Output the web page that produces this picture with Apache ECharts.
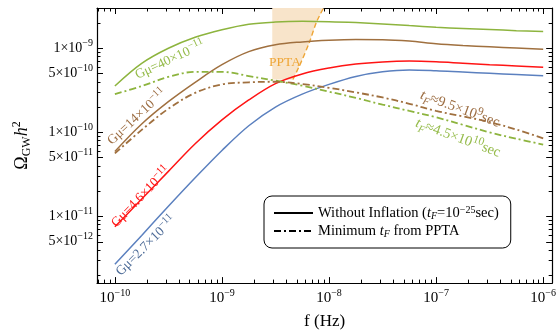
<!DOCTYPE html>
<html>
<head>
<meta charset="utf-8">
<script src="https://cdn.jsdelivr.net/npm/echarts@6/dist/echarts.min.js"></script>
<style>
  html, body { margin: 0; padding: 0; background: #fff; }
  #chart { width: 559px; height: 335px; }
</style>
</head>
<body>
<div id="chart"></div>
<script>
// frequencies (Hz) shared by all curves, quarter-decade steps
const freq = [1e-10, 1.78e-10, 3.16e-10, 5.62e-10, 1e-9, 1.78e-9, 3.16e-9, 5.62e-9, 1e-8,
              1.78e-8, 3.16e-8, 5.62e-8, 1e-7, 1.78e-7, 3.16e-7, 5.62e-7, 1e-6];

// Omega_GW h^2, without inflation
const omegaG40 = [3.56e-10, 6.61e-10, 1.0e-9, 1.35e-9, 1.66e-9, 1.93e-9, 2.05e-9, 2.09e-9, 2.07e-9,
                  2.02e-9, 1.95e-9, 1.86e-9, 1.78e-9, 1.72e-9, 1.67e-9, 1.62e-9, 1.58e-9];
const omegaG14 = [5.94e-11, 1.26e-10, 2.32e-10, 3.94e-10, 6.38e-10, 9.12e-10, 1.10e-9, 1.19e-9, 1.245e-9,
                  1.27e-9, 1.265e-9, 1.22e-9, 1.135e-9, 1.08e-9, 1.04e-9, 1.005e-9, 9.72e-10];
const omegaG46 = [7.53e-12, 1.61e-11, 3.44e-11, 7.33e-11, 1.41e-10, 2.43e-10, 3.80e-10, 4.95e-10, 5.82e-10,
                  6.49e-10, 6.89e-10, 7.05e-10, 6.92e-10, 6.64e-10, 6.38e-10, 6.17e-10, 5.96e-10];
const omegaG27 = [2.70e-12, 5.96e-12, 1.32e-11, 2.88e-11, 6.10e-11, 1.20e-10, 2.0e-10, 2.85e-10, 3.72e-10,
                  4.62e-10, 5.25e-10, 5.52e-10, 5.40e-10, 5.21e-10, 5.04e-10, 4.88e-10, 4.73e-10];

// minimum t_F from PPTA
const omegaG40min = [2.85e-10, 3.55e-10, 4.57e-10, 5.25e-10, 5.25e-10, 4.68e-10, 4.12e-10, 3.59e-10, 3.05e-10,
                     2.57e-10, 2.14e-10, 1.80e-10, 1.51e-10, 1.23e-10, 1.0e-10, 8.41e-11, 7.16e-11];
const omegaG14min = [5.62e-11, 1.07e-10, 1.91e-10, 2.95e-10, 3.72e-10, 3.94e-10, 4.0e-10, 3.76e-10, 3.39e-10,
                     2.99e-10, 2.60e-10, 2.19e-10, 1.80e-10, 1.55e-10, 1.33e-10, 1.08e-10, 8.51e-11];

// PPTA region outline
const pptaF = [2.95e-9, 2.95e-9, 4.6e-9, 5.5e-9, 6.56e-9, 7.7e-9, 9.6e-9];
const pptaO = [3.6e-9, 4.25e-10, 4.25e-10, 6.9e-10, 1.18e-9, 2.1e-9, 3.6e-9];

// tick labels
const xTickValues = [1e-10, 1e-9, 1e-8, 1e-7, 1e-6];
const yTickValues = [5e-12, 1e-11, 5e-11, 1e-10, 5e-10, 1e-9];

const X_MIN = -10.167, X_MAX = -5.916;
const Y_MIN = -11.792, Y_MAX = -8.521;
const FONT = 'Liberation Serif';

const lg = Math.log10;
const pts = (ys) => freq.map((f, i) => [lg(f), lg(ys[i])]);

function minorTicks(lo, hi) {
  const out = [];
  for (let n = -13; n <= -5; n++) {
    for (let k = 2; k <= 9; k++) {
      const v = n + lg(k);
      if (v >= lo && v <= hi) out.push(v);
    }
  }
  return out;
}
function majorTicks(lo, hi) {
  const out = [];
  for (let n = -13; n <= -5; n++) {
    [n, n + lg(5)].forEach(v => { if (v >= lo && v <= hi) out.push(v); });
  }
  return out;
}
const isFive = v => Math.abs((v - Math.floor(v + 1e-9)) - lg(5)) < 1e-6;
const xMajor = xTickValues.map(lg);
const xMinor = minorTicks(X_MIN, X_MAX);
const yMajor = majorTicks(Y_MIN, Y_MAX);
const yMinor = minorTicks(Y_MIN, Y_MAX).filter(v => !isFive(v));

const supStyle = { fontSize: 10, lineHeight: 10, verticalAlign: 'top', fontFamily: FONT, color: '#000' };
const minus = (n) => String(n).replace('-', '\u2212');

function xAxisDef(pos, ticks, len, line, labels) {
  return {
    type: 'value', position: pos, min: X_MIN, max: X_MAX,
    axisLine: { show: line, onZero: false, lineStyle: { color: '#000', width: 1.2 } },
    axisTick: { inside: true, length: len, customValues: ticks, lineStyle: { color: '#000', width: 1 } },
    axisLabel: labels ? {
      customValues: xMajor, margin: 5, fontFamily: FONT, fontSize: 15, color: '#000', lineHeight: 20,
      formatter: v => '10{sup|' + minus(Math.round(v)) + '}',
      rich: { sup: supStyle }
    } : { show: false },
    splitLine: { show: false },
    name: labels ? 'f (Hz)' : '',
    nameLocation: 'middle', nameGap: 17,
    nameTextStyle: { fontFamily: FONT, fontSize: 17, color: '#000' }
  };
}
function yAxisDef(pos, ticks, len, line, labels) {
  return {
    type: 'value', position: pos, min: Y_MIN, max: Y_MAX,
    axisLine: { show: line, onZero: false, lineStyle: { color: '#000', width: 1.2 } },
    axisTick: { inside: true, length: len, customValues: ticks, lineStyle: { color: '#000', width: 1 } },
    axisLabel: labels ? {
      customValues: yTickValues.map(lg), margin: 4, fontFamily: FONT, fontSize: 14, color: '#000', lineHeight: 20,
      formatter: v => {
        const e = Math.floor(v + 1e-6);
        const m = Math.round(Math.pow(10, v - e));
        return m + '\u00d710{sup|' + minus(e) + '}';
      },
      rich: { sup: supStyle }
    } : { show: false },
    splitLine: { show: false },
    name: labels ? '{o|\u03a9}{sub|GW}{h|h}{sup|2}' : '',
    nameLocation: 'middle', nameGap: 64,
    nameTextStyle: {
      fontFamily: FONT, fontSize: 18, color: '#000', lineHeight: 22,
      rich: {
        o: { fontFamily: FONT, fontSize: 18, lineHeight: 22 },
        sub: { fontFamily: FONT, fontSize: 12, lineHeight: 11, verticalAlign: 'bottom' },
        h: { fontFamily: FONT, fontSize: 18, fontStyle: 'italic', lineHeight: 22 },
        sup: { fontFamily: FONT, fontSize: 12, lineHeight: 11, verticalAlign: 'top' }
      }
    }
  };
}

const GREEN = '#8db43e', BROWN = '#a0703f', RED = '#ff1414', BLUE = '#5b80bf', ORANGE = '#eea535';
const DASHDOT = [7, 3, 2, 3];

function curve(name, data, color, dashed) {
  return {
    name, type: 'line', data: pts(data), smooth: 0.35, symbol: 'none', z: 3,
    lineStyle: { color, width: dashed ? 1.8 : 1.5, type: dashed ? DASHDOT : 'solid' },
    itemStyle: { color }
  };
}

const rich = (size, color) => ({
  n: { fontFamily: FONT, fontSize: size, fill: color, lineHeight: size + 6 },
  it: { fontFamily: FONT, fontSize: size, fill: color, fontStyle: 'italic', lineHeight: size + 6 },
  sup: { fontFamily: FONT, fontSize: size - 3, fill: color, lineHeight: size - 3, verticalAlign: 'top' },
  sub: { fontFamily: FONT, fontSize: size - 4, fill: color, fontStyle: 'italic', lineHeight: size - 4, verticalAlign: 'bottom' }
});
function note(text, x, y, deg, color, size) {
  return {
    type: 'text', x, y, rotation: deg * Math.PI / 180, z: 10,
    style: { text, fill: color, fontFamily: FONT, fontSize: size, align: 'center', verticalAlign: 'middle', rich: rich(size, color) }
  };
}

const chart = echarts.init(document.getElementById('chart'));
chart.setOption({
  animation: false,
  backgroundColor: '#fff',
  grid: { left: 97, right: 5, top: 8, bottom: 45 },
  xAxis: [
    xAxisDef('bottom', xMajor, 6, true, true),
    xAxisDef('bottom', xMinor, 3.5, false, false),
    xAxisDef('top', xMajor, 6, true, false),
    xAxisDef('top', xMinor, 3.5, false, false)
  ],
  yAxis: [
    yAxisDef('left', yMajor, 6, true, true),
    yAxisDef('left', yMinor, 3.5, false, false),
    yAxisDef('right', yMajor, 6, true, false),
    yAxisDef('right', yMinor, 3.5, false, false)
  ],
  legend: {
    orient: 'vertical', left: 264, top: 196,
    padding: [9, 12, 9, 9], itemGap: 2, itemWidth: 39, itemHeight: 14,
    borderColor: '#000', borderWidth: 1, borderRadius: 8,
    itemStyle: { opacity: 0 },
    data: ['solid', 'dashdot'],
    formatter: n => n === 'solid'
      ? '{n|Without Inflation (}{it|t}{sub|F}{n|=10}{sup|\u221225}{n|sec)}'
      : '{n|Minimum }{it|t}{sub|F}{n| from PPTA}',
    textStyle: {
      fontFamily: FONT, fontSize: 14.5, color: '#000', lineHeight: 16,
      rich: {
        n: { fontFamily: FONT, fontSize: 14.5, color: '#000', lineHeight: 16 },
        it: { fontFamily: FONT, fontSize: 14.5, color: '#000', fontStyle: 'italic', lineHeight: 16 },
        sup: { fontFamily: FONT, fontSize: 10, color: '#000', lineHeight: 8, verticalAlign: 'top' },
        sub: { fontFamily: FONT, fontSize: 10, color: '#000', fontStyle: 'italic', lineHeight: 8, verticalAlign: 'bottom' }
      }
    }
  },
  series: [
    {
      type: 'custom', z: 1, clip: true,
      data: [[lg(pptaF[0]), lg(pptaO[1])]],
      renderItem: (params, api) => ({
        type: 'polygon',
        shape: { points: pptaF.map((f, i) => api.coord([lg(f), lg(pptaO[i])])) },
        style: { fill: '#f8e4ca', stroke: null }
      })
    },
    {
      type: 'line', symbol: 'none', z: 2,
      data: pptaF.slice(2).map((f, i) => [lg(f), lg(pptaO[i + 2])]),
      smooth: 0.3,
      lineStyle: { color: ORANGE, width: 1.4, type: [5, 3] }
    },
    curve('g40', omegaG40, GREEN, false),
    curve('g14', omegaG14, BROWN, false),
    curve('g46', omegaG46, RED, false),
    curve('g27', omegaG27, BLUE, false),
    curve('g40min', omegaG40min, GREEN, true),
    curve('g14min', omegaG14min, BROWN, true),
    { name: 'solid', type: 'line', data: [], symbol: 'none', lineStyle: { color: '#000', width: 1.5 }, itemStyle: { color: '#000' } },
    { name: 'dashdot', type: 'line', data: [], symbol: 'none', lineStyle: { color: '#000', width: 1.5, type: DASHDOT }, itemStyle: { color: '#000' } }
  ],
  graphic: [
    note('{n|PPTA}', 285, 62, 0, ORANGE, 13.5),
    note('{n|G\u03bc=40\u00d710}{sup|\u221211}', 170, 60, 25, '#96bc4c', 13.5),
    note('{n|G\u03bc=14\u00d710}{sup|\u221211}', 137, 117, 43, '#9c6d42', 13.5),
    note('{n|G\u03bc=4.6\u00d710}{sup|\u221211}', 141, 197, 46, RED, 13.5),
    note('{n|G\u03bc=2.7\u00d710}{sup|\u221211}', 146, 246, 45, '#4e6c98', 13.5),
    note('{it|t}{sub|F}{n|\u22489.5\u00d710}{sup|9}{n|sec}', 460, 109, -20, '#9c6d42', 14.5),
    note('{it|t}{sub|F}{n|\u22484.5\u00d710}{sup|10}{n|sec}', 458, 138, -20, '#96bc4c', 14.5)
  ]
});
</script>
</body>
</html>
